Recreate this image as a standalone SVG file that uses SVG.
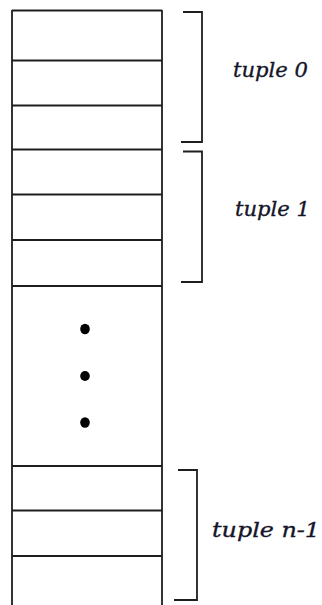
<svg xmlns="http://www.w3.org/2000/svg" width="322" height="605" viewBox="0 0 322 605">
<style>
.ln{stroke:#1e1e1e;stroke-width:1.8;fill:none}
.br{stroke:#1e1e1e;stroke-width:1.8;fill:none}
.lbl{font-family:"DejaVu Serif","Liberation Serif",serif;font-style:italic;font-size:21px;fill:#15152a;stroke:#15152a;stroke-width:0.35}
.dot{fill:#000}
</style>
<rect width="322" height="605" fill="#fff"/>
<g id="column">
<path class="ln" d="M12,10 V605 M162,10 V605"/>
<path class="ln" d="M12,10.5 H162 M12,60.5 H162 M12,105.5 H162 M12,149.5 H162 M12,194.5 H162 M12,240 H162 M12,286 H162 M12,466 H162 M12,510.5 H162 M12,556 H162"/>
</g>
<g id="dots">
<ellipse class="dot" cx="85" cy="329" rx="4.8" ry="5.2"/>
<ellipse class="dot" cx="85" cy="376" rx="4.8" ry="5"/>
<ellipse class="dot" cx="85" cy="422.5" rx="4.8" ry="5.2"/>
</g>
<g id="connectors">
<path class="br" d="M183,12 H202 V142 H181"/>
<path class="br" d="M183,151.5 H202 V282 H181"/>
<path class="br" d="M178,470 H197 V600 H174"/>
</g>
<g id="tuple0"><text class="lbl" x="233" y="77" textLength="75" lengthAdjust="spacingAndGlyphs">tuple 0</text></g>
<g id="tuple1"><text class="lbl" x="235" y="216" textLength="75" lengthAdjust="spacingAndGlyphs">tuple 1</text></g>
<g id="tupleN"><text class="lbl" x="212" y="537" textLength="108" lengthAdjust="spacingAndGlyphs">tuple n-1</text></g>
</svg>
